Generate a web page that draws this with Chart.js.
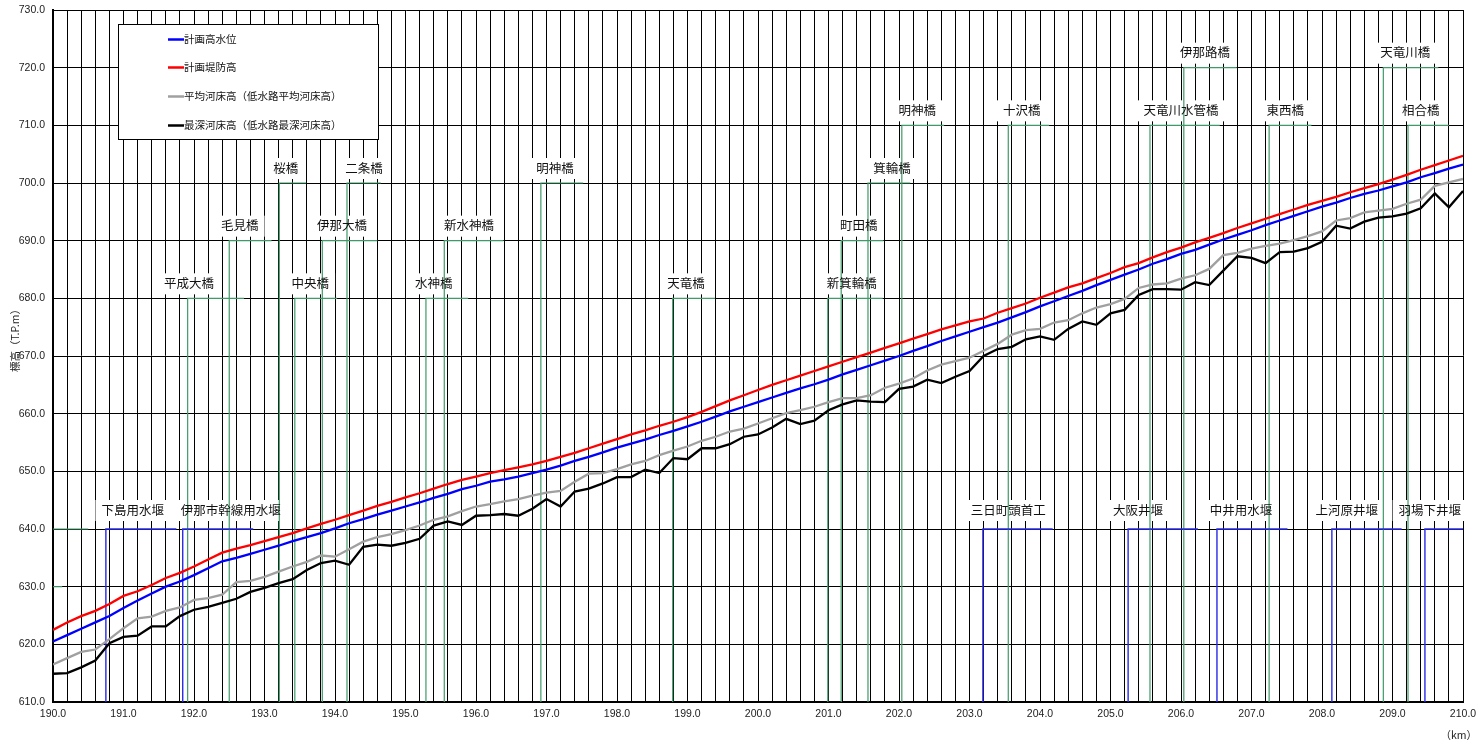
<!DOCTYPE html>
<html>
<head>
<meta charset="utf-8">
<script src="https://cdn.jsdelivr.net/npm/chart.js@4.4.1/dist/chart.umd.min.js"></script>
<style>
  html, body { margin: 0; padding: 0; background: #fff; }
</style>
</head>
<body>
<canvas id="profile" width="1481" height="746"></canvas>
<script>
var distanceKm = [
  190.0, 190.2, 190.4, 190.6, 190.8, 191.0, 191.2, 191.4, 191.6, 191.8,
  192.0, 192.2, 192.4, 192.6, 192.8, 193.0, 193.2, 193.4, 193.6, 193.8,
  194.0, 194.2, 194.4, 194.6, 194.8, 195.0, 195.2, 195.4, 195.6, 195.8,
  196.0, 196.2, 196.4, 196.6, 196.8, 197.0, 197.2, 197.4, 197.6, 197.8,
  198.0, 198.2, 198.4, 198.6, 198.8, 199.0, 199.2, 199.4, 199.6, 199.8,
  200.0, 200.2, 200.4, 200.6, 200.8, 201.0, 201.2, 201.4, 201.6, 201.8,
  202.0, 202.2, 202.4, 202.6, 202.8, 203.0, 203.2, 203.4, 203.6, 203.8,
  204.0, 204.2, 204.4, 204.6, 204.8, 205.0, 205.2, 205.4, 205.6, 205.8,
  206.0, 206.2, 206.4, 206.6, 206.8, 207.0, 207.2, 207.4, 207.6, 207.8,
  208.0, 208.2, 208.4, 208.6, 208.8, 209.0, 209.2, 209.4, 209.6, 209.8,
  210.0
];

var planHighWater = [
  620.5, 621.6, 622.7, 623.8, 624.9, 626.3, 627.6, 628.8, 630.0, 630.9,
  632.0, 633.2, 634.4, 635.0, 635.7, 636.4, 637.1, 637.9, 638.6, 639.3,
  640.1, 641.0, 641.7, 642.5, 643.2, 643.9, 644.6, 645.4, 646.1, 646.9,
  647.5, 648.2, 648.6, 649.1, 649.7, 650.3, 651.0, 651.8, 652.5, 653.3,
  654.1, 654.8, 655.5, 656.3, 657.0, 657.8, 658.6, 659.5, 660.4, 661.2,
  662.0, 662.8, 663.6, 664.4, 665.1, 665.9, 666.8, 667.6, 668.4, 669.2,
  670.0, 670.9, 671.7, 672.6, 673.4, 674.2, 675.0, 675.8, 676.7, 677.6,
  678.6, 679.5, 680.4, 681.3, 682.3, 683.2, 684.1, 685.0, 686.0, 686.8,
  687.7, 688.4, 689.3, 690.2, 691.0, 691.8, 692.7, 693.5, 694.3, 695.1,
  695.9, 696.6, 697.4, 698.1, 698.7, 699.4, 700.1, 701.0, 701.7, 702.5,
  703.2
];

var planLevee = [
  622.5, 623.8, 624.9, 625.8, 627.0, 628.4, 629.2, 630.3, 631.5, 632.4,
  633.5, 634.7, 635.9, 636.6, 637.2, 637.9, 638.6, 639.3, 640.1, 640.9,
  641.6, 642.4, 643.2, 644.0, 644.7, 645.5, 646.2, 647.0, 647.8, 648.5,
  649.1, 649.7, 650.2, 650.7, 651.2, 651.8, 652.5, 653.2, 654.0, 654.8,
  655.6, 656.4, 657.1, 657.9, 658.6, 659.4, 660.3, 661.3, 662.3, 663.2,
  664.1, 665.0, 665.8, 666.6, 667.4, 668.2, 669.0, 669.8, 670.6, 671.4,
  672.2, 673.0, 673.8, 674.6, 675.3, 676.0, 676.5, 677.5, 678.3, 679.1,
  680.1, 681.0, 681.9, 682.6, 683.5, 684.4, 685.4, 686.1, 687.1, 688.0,
  688.8, 689.7, 690.5, 691.3, 692.2, 693.0, 693.8, 694.6, 695.4, 696.2,
  696.9, 697.6, 698.4, 699.1, 699.8, 700.6, 701.4, 702.3, 703.1, 703.9,
  704.7
];

var averageBed = [
  616.5, 617.6, 618.7, 619.1, 620.9, 622.8, 624.5, 624.8, 625.8, 626.4,
  627.7, 628.0, 628.6, 630.8, 631.0, 631.7, 632.6, 633.5, 634.3, 635.4,
  635.2, 636.5, 637.8, 638.6, 639.1, 639.8, 640.6, 641.6, 642.2, 643.1,
  643.9, 644.3, 644.8, 645.2, 645.8, 646.3, 646.6, 648.2, 649.6, 649.7,
  650.4, 651.2, 651.8, 652.8, 653.6, 654.3, 655.3, 656.0, 656.9, 657.4,
  658.3, 659.2, 660.1, 660.6, 661.2, 662.0, 662.7, 662.7, 663.2, 664.5,
  665.2, 666.1, 667.5, 668.5, 669.1, 669.7, 670.9, 672.1, 673.7, 674.5,
  674.7, 675.8, 676.2, 677.4, 678.4, 679.0, 679.9, 681.8, 682.4, 682.6,
  683.4, 684.0, 685.1, 687.5, 687.9, 688.6, 689.1, 689.5, 690.1, 690.8,
  691.6, 693.5, 693.9, 694.9, 695.2, 695.5, 696.4, 697.1, 699.5, 700.1,
  700.7
];

var deepestBed = [
  614.9, 615.0, 616.0, 617.2, 620.2, 621.3, 621.5, 623.1, 623.1, 624.9,
  626.0, 626.5, 627.2, 627.9, 629.1, 629.8, 630.6, 631.3, 632.9, 634.1,
  634.5, 633.8, 636.9, 637.3, 637.1, 637.6, 638.3, 640.6, 641.3, 640.7,
  642.3, 642.4, 642.6, 642.3, 643.5, 645.2, 643.9, 646.5, 647.0, 647.9,
  649.0, 649.0, 650.3, 649.7, 652.3, 652.1, 654.0, 654.0, 654.7, 656.0,
  656.4, 657.6, 659.1, 658.2, 658.8, 660.6, 661.6, 662.3, 662.1, 662.0,
  664.3, 664.7, 665.9, 665.3, 666.4, 667.4, 670.0, 671.2, 671.6, 672.9,
  673.4, 672.8, 674.7, 676.0, 675.4, 677.4, 678.0, 680.6, 681.6, 681.6,
  681.5, 682.8, 682.3, 684.8, 687.3, 687.0, 686.1, 688.0, 688.1, 688.7,
  689.8, 692.6, 692.1, 693.3, 694.0, 694.2, 694.7, 695.6, 698.2, 695.8,
  698.6
];

var seriesNames = [
  '計画高水位',
  '計画堤防高',
  '平均河床高（低水路平均河床高）',
  '最深河床高（低水路最深河床高）'
];

// bridges: leader goes up from the bed to a label level, then right
var bridgeNames = [
  '', '',
  '平成大橋', '毛見橋', '桜橋', '中央橋', '伊那大橋', '二条橋',
  '水神橋', '新水神橋', '明神橋', '天竜橋',
  '新箕輪橋', '町田橋', '箕輪橋', '明神橋', '十沢橋',
  '天竜川水管橋', '伊那路橋', '東西橋', '天竜川橋', '相合橋'
];
var bridgeKm = [
  189.9, 189.9,
  191.91, 192.50, 193.21, 193.43, 193.82, 194.17,
  195.29, 195.55, 196.92, 198.79,
  200.99, 201.18, 201.56, 202.04, 203.55,
  205.56, 206.04, 207.25, 208.87, 209.22
];
var bridgeLevel = [
  640, 630,
  680, 690, 700, 680, 690, 700,
  680, 690, 700, 680,
  680, 690, 700, 710, 710,
  710, 720, 710, 720, 710
];
var bridgeEndKm = [
  190.5, 190.13,
  192.71, 193.10, 193.59, 194.03, 194.60, 194.65,
  195.89, 196.39, 197.52, 199.39,
  201.77, 201.78, 202.16, 202.64, 204.13,
  206.55, 206.79, 207.85, 209.65, 209.80
];
var bridgeLabelKm = [
  190.0, 190.0,
  191.93, 192.65, 193.30, 193.65, 194.10, 194.41,
  195.40, 195.90, 197.12, 198.98,
  201.33, 201.43, 201.90, 202.26, 203.74,
  206.00, 206.34, 207.48, 209.18, 209.40
];

var weirNames = ['下島用水堰', '伊那市幹線用水堰', '三日町頭首工', '大阪井堰', '中井用水堰', '上河原井堰', '羽場下井堰'];
var weirKm = [190.75, 191.84, 203.19, 205.25, 206.51, 208.14, 209.46];
var weirEndKm = [191.75, 192.84, 204.18, 206.24, 207.51, 209.13, 210.46];
var weirLabelKm = [191.13, 192.52, 203.55, 205.39, 206.85, 208.35, 209.53];
var weirLevel = 640;

var yMin = 610;
var yMax = 730;

var seriesColors = ['#0000ff', '#ff0000', '#a0a0a0', '#000000'];
var bridgeColor = '#3f9a68';
var weirColor = '#2a2ae6';
var labelFont = '12.5px "Noto Sans CJK JP"';
var smallFont = '10.5px "Noto Sans CJK JP"';
var tickFont = { family: 'Liberation Sans', size: 10.5 };

function seriesPoints(values)
{
  return distanceKm.map(function(km, i) {
    return { x: km, y: values[i] };
  });
}

function buildDatasets()
{
  var sets = [];
  var values = [planHighWater, planLevee, averageBed, deepestBed];

  for (var i = 0; i < values.length; i++) {
    sets.push({
      label: seriesNames[i],
      data: seriesPoints(values[i]),
      borderColor: seriesColors[i],
      borderWidth: 2.3,
      pointRadius: 0,
      tension: 0
    });
  }

  for (var w = 0; w < weirNames.length; w++) {
    sets.push({
      label: weirNames[w],
      data: [
        { x: weirKm[w], y: yMin },
        { x: weirKm[w], y: weirLevel },
        { x: weirEndKm[w], y: weirLevel }
      ],
      borderColor: weirColor,
      borderWidth: 1.4,
      pointRadius: 0,
      tension: 0
    });
  }

  for (var b = 0; b < bridgeNames.length; b++) {
    sets.push({
      label: bridgeNames[b],
      data: [
        { x: bridgeKm[b], y: yMin },
        { x: bridgeKm[b], y: bridgeLevel[b] },
        { x: bridgeEndKm[b], y: bridgeLevel[b] }
      ],
      borderColor: bridgeColor,
      borderWidth: 1.2,
      pointRadius: 0,
      tension: 0
    });
  }
  return sets;
}

function structureLabels()
{
  var list = [];
  for (var b = 0; b < bridgeNames.length; b++) {
    if (bridgeNames[b] !== '') {
      list.push({ text: bridgeNames[b], km: bridgeLabelKm[b], level: bridgeLevel[b], lift: 15 });
    }
  }
  for (var w = 0; w < weirNames.length; w++) {
    list.push({ text: weirNames[w], km: weirLabelKm[w], level: weirLevel, lift: 19 });
  }
  return list;
}

function drawLabels(chart, boxes)
{
  var ctx = chart.ctx;
  var xs = chart.scales.x;
  var ys = chart.scales.y;
  var list = structureLabels();

  ctx.save();
  ctx.font = labelFont;
  ctx.textAlign = 'center';
  ctx.textBaseline = 'middle';
  list.forEach(function(item) {
    var x = xs.getPixelForValue(item.km);
    var y = ys.getPixelForValue(item.level) - item.lift;
    var w = ctx.measureText(item.text).width;
    if (boxes) {
      ctx.fillStyle = '#ffffff';
      ctx.fillRect(x - w / 2 - 6, y - 10, w + 12, 21);
    } else {
      ctx.fillStyle = '#111111';
      ctx.fillText(item.text, x, y);
    }
  });
  ctx.restore();
}

function drawLegend(chart)
{
  var ctx = chart.ctx;
  var rows = [39.5, 67.5, 96.5, 125.5];

  ctx.save();
  ctx.fillStyle = '#ffffff';
  ctx.fillRect(118, 24, 260, 115);
  ctx.strokeStyle = '#000000';
  ctx.lineWidth = 1;
  ctx.strokeRect(118.5, 24.5, 260, 115);

  ctx.font = smallFont;
  ctx.textAlign = 'left';
  ctx.textBaseline = 'middle';
  for (var i = 0; i < seriesNames.length; i++) {
    ctx.strokeStyle = seriesColors[i];
    ctx.lineWidth = 2.5;
    ctx.beginPath();
    ctx.moveTo(168, rows[i]);
    ctx.lineTo(184, rows[i]);
    ctx.stroke();
    ctx.fillStyle = '#111111';
    ctx.fillText(seriesNames[i], 184, rows[i]);
  }
  ctx.restore();
}

function drawAxisTitles(chart)
{
  var ctx = chart.ctx;
  ctx.save();
  ctx.font = smallFont;
  ctx.fillStyle = '#222222';
  ctx.textBaseline = 'middle';

  ctx.textAlign = 'right';
  ctx.fillText('（km）', 1477, 735);

  ctx.translate(15, 338);
  ctx.rotate(-Math.PI / 2);
  ctx.textAlign = 'center';
  ctx.fillText('標高（T.P.m）', 0, 0);
  ctx.restore();
}

var overlayPlugin = {
  id: 'overlay',
  beforeDatasetsDraw: function(chart) {
    drawLabels(chart, true);
  },
  afterDatasetsDraw: function(chart) {
    drawLabels(chart, false);
    drawLegend(chart);
    drawAxisTitles(chart);
  }
};

function initProfileChart()
{
  var ctx = document.getElementById('profile');
  new Chart(ctx, {
    type: 'line',
    data: { datasets: buildDatasets() },
    plugins: [overlayPlugin],
    options: {
      responsive: false,
      animation: false,
      devicePixelRatio: 1,
      layout: { padding: { top: 10, right: 18, left: 0, bottom: 0 } },
      plugins: {
        legend: { display: false },
        tooltip: { enabled: false }
      },
      scales: {
        x: {
          type: 'linear',
          min: 190,
          max: 210,
          afterFit: function(scale) {
            scale.height = 44;
            scale.paddingLeft = 0;
            scale.paddingRight = 0;
          },
          grid: { color: '#000000', lineWidth: 1, drawTicks: false },
          border: { color: '#000000', width: 2 },
          ticks: {
            stepSize: 0.2,
            autoSkip: false,
            maxRotation: 0,
            padding: 6,
            color: '#222222',
            font: tickFont,
            callback: function(value) {
              var r = Math.round(value);
              return Math.abs(value - r) < 1e-6 ? r.toFixed(1) : '';
            }
          }
        },
        y: {
          min: yMin,
          max: yMax,
          afterFit: function(scale) {
            scale.width = 53;
            scale.paddingTop = 0;
            scale.paddingBottom = 0;
          },
          grid: { color: '#000000', lineWidth: 1, drawTicks: false },
          border: { color: '#000000', width: 2 },
          ticks: {
            stepSize: 10,
            padding: 8,
            color: '#222222',
            font: tickFont,
            callback: function(value) { return value.toFixed(1); }
          }
        }
      }
    }
  });
}

initProfileChart();
</script>
</body>
</html>
